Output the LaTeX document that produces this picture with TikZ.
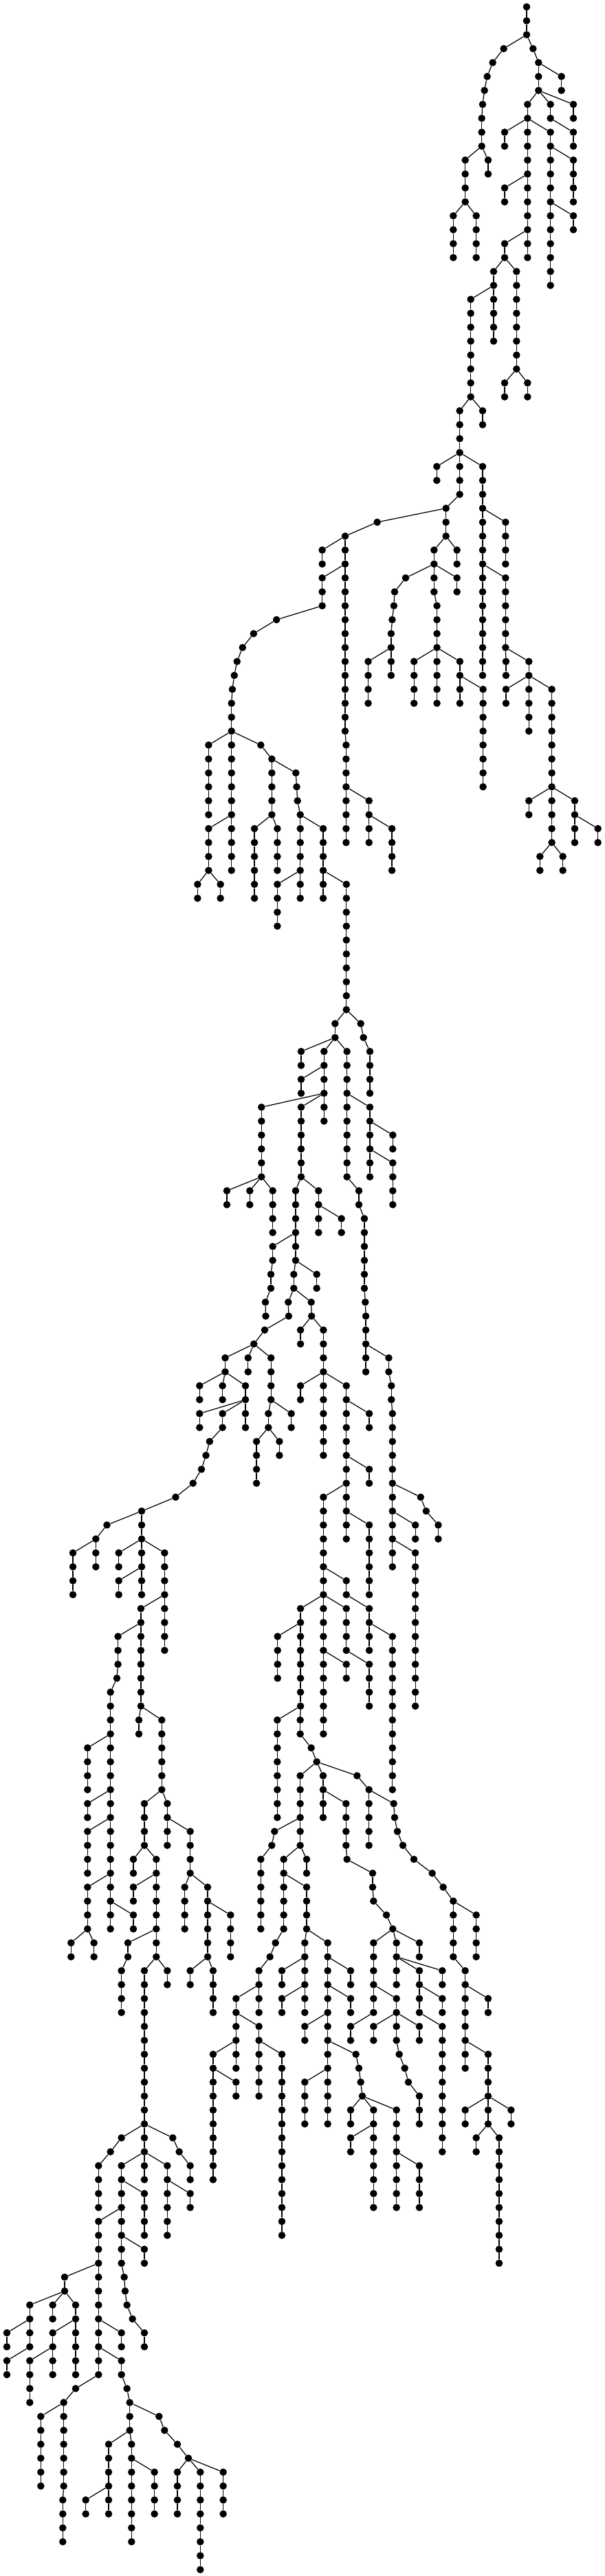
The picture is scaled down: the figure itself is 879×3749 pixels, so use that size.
\documentclass[tikz,border=0pt]{standalone}
\tikzset{
  treedot/.style={circle,fill=black,draw=none,inner sep=0pt,minimum size=10.6pt},
  treeedge/.style={draw=black,line width=1.25pt}
}
% region: name prefix, x origin, x scale
\newcommand\Rg[3]{\def\Rn{#1}\def\ox{#2}\def\sx{#3}}
% chain: parent node, column, first level, last level
\newcommand\Ch[4]{%
  \pgfmathsetmacro\cx{\ox+#2/\sx}%
  \foreach \lv [remember=\lv as \pv (initially -1)] in {#3,...,#4}{%
    \pgfmathsetmacro\cy{10+20.27*\lv}%
    \node[treedot] (\Rn#2-\lv) at (\cx pt,-\cy pt) {};%
    \ifnum\pv<0 \draw[treeedge] (#1) -- (\Rn#2-\lv);%
    \else \draw[treeedge] (\Rn#2-\pv) -- (\Rn#2-\lv);\fi
  }%
}
\begin{document}
\begin{tikzpicture}
\path[use as bounding box,fill=white] (0pt,0pt) rectangle (879pt,-3749pt);
\Rg{a}{440}{3}
\node[treedot] (a978-0) at (766pt,-10pt) {};
\Ch{a978-0}{978}{1}{2}
\Ch{a978-2}{878}{3}{3}\Ch{a878-3}{830}{4}{4}\Ch{a830-4}{806}{5}{5}\Ch{a806-5}{794}{6}{6}\Ch{a794-6}{786}{7}{7}\Ch{a786-7}{782}{8}{10}
\Ch{a782-10}{710}{11}{14}\Ch{a782-10}{810}{11}{12}
\Ch{a710-14}{658}{15}{18}\Ch{a710-14}{758}{15}{18}
\Ch{a978-2}{1006}{3}{3}\Ch{a1006-3}{1030}{4}{6}\Ch{a1030-4}{1130}{5}{6}
\Ch{a1030-6}{982}{7}{8}\Ch{a1030-6}{1082}{7}{8}\Ch{a1030-6}{1182}{7}{8}
\Ch{a1082-8}{1182}{9}{10}
\Ch{a982-8}{882}{9}{10}\Ch{a982-8}{982}{9}{18}\Ch{a982-8}{1082}{9}{10}
\Ch{a982-12}{882}{13}{14}\Ch{a982-16}{882}{17}{18}
\Ch{a882-18}{834}{19}{24}\Ch{a882-18}{934}{19}{26}
\Ch{a834-20}{734}{21}{28}
\Ch{a1082-10}{1082}{11}{20}\Ch{a1082-10}{1182}{11}{14}\Ch{a1082-14}{1182}{15}{16}
\Ch{a934-26}{882}{27}{28}\Ch{a934-26}{982}{27}{28}
\Ch{a734-28}{686}{29}{35}\Ch{a734-28}{786}{29}{30}
\Ch{a686-32}{586}{33}{34}\Ch{a686-32}{786}{33}{48}
\Ch{a686-35}{626}{36}{38}\Ch{a626-36}{326}{37}{37}\Ch{a326-37}{186}{38}{52}
\Ch{a186-38}{86}{39}{40}\Ch{a186-40}{86}{41}{43}
\Ch{a626-38}{574}{39}{42}\Ch{a626-38}{674}{39}{40}
\Ch{a574-40}{450}{41}{41}\Ch{a574-40}{674}{41}{42}\Ch{a450-41}{402}{42}{42}
\Ch{a786-36}{886}{37}{40}\Ch{a786-40}{886}{41}{46}

\Rg{c}{250}{2.49}
\Ch{a186-52}{631}{53}{60}\Ch{c631-56}{714}{57}{60}\Ch{c714-58}{797}{59}{62}
\Ch{a86-43}{379}{44}{44}\Ch{c379-44}{296}{45}{45}\Ch{c296-45}{256}{46}{46}\Ch{c256-46}{236}{47}{47}\Ch{c236-47}{226}{48}{48}\Ch{c226-48}{219}{49}{49}\Ch{c219-49}{216}{50}{62}
\Ch{c216-52}{133}{53}{58}\Ch{c216-52}{322}{53}{53}\Ch{c216-58}{133}{59}{62}
\Ch{c133-62}{93}{63}{64}\Ch{c133-62}{176}{63}{64}
\Ch{c322-53}{362}{54}{58}\Ch{c362-54}{449}{55}{55}\Ch{c362-58}{299}{59}{64}\Ch{c362-58}{382}{59}{62}
\Ch{c449-55}{452}{56}{56}\Ch{c452-56}{455}{57}{57}\Ch{c455-57}{465}{58}{64}\Ch{c465-58}{548}{59}{64}
\Ch{c465-62}{382}{63}{66}\Ch{c548-62}{632}{63}{72}
\Ch{a402-42}{804}{43}{43}\Ch{c804-43}{798}{44}{44}\Ch{c798-44}{794}{45}{48}\Ch{c794-46}{711}{47}{50}
\Ch{a574-42}{960}{43}{50}\Ch{c960-46}{877}{47}{50}\Ch{c960-46}{1043}{47}{50}\Ch{c1043-48}{1127}{49}{56}
\Ch{a886-46}{1210}{47}{48}\Ch{a886-46}{1293}{47}{52}
\Ch{c1293-48}{1210}{49}{50}\Ch{c1293-48}{1376}{49}{60}
\Ch{c1376-56}{1293}{57}{58}\Ch{c1376-56}{1459}{57}{60}\Ch{c1459-58}{1543}{59}{60}
\Ch{c1376-60}{1333}{61}{62}\Ch{c1376-60}{1416}{61}{62}

\Rg{d}{270}{3}
\Ch{c632-72}{652}{73}{74}\Ch{c632-72}{764}{73}{73}\Ch{d764-73}{776}{74}{74}\Ch{d776-74}{804}{75}{78}
\Ch{d652-74}{504}{75}{76}\Ch{d652-74}{604}{75}{80}\Ch{d652-74}{704}{75}{84}
\Ch{d604-76}{504}{77}{78}\Ch{d604-78}{331}{79}{84}\Ch{d604-78}{504}{79}{84}
\Ch{d331-84}{180}{85}{86}\Ch{d331-84}{280}{85}{86}\Ch{d331-84}{380}{85}{88}
\Ch{d504-84}{480}{85}{90}\Ch{d504-84}{580}{85}{88}\Ch{d580-86}{680}{87}{88}
\Ch{d480-88}{380}{89}{90}\Ch{d380-90}{372}{91}{92}\Ch{d372-92}{348}{93}{93}
\Ch{d480-90}{472}{91}{92}\Ch{d480-90}{572}{91}{92}
\Ch{d472-92}{448}{93}{93}\Ch{d472-92}{548}{93}{93}
\Ch{d704-78}{804}{79}{84}\Ch{d804-80}{904}{81}{82}\Ch{d804-82}{904}{83}{86}
\Ch{d704-84}{756}{85}{86}\Ch{d756-86}{780}{87}{92}\Ch{d780-92}{784}{93}{93}

\Rg{e}{80}{2.61}
\Ch{d348-93}{800}{94}{94}
\Ch{d448-93}{887}{94}{94}\Ch{e887-94}{796}{95}{95}\Ch{e796-95}{755}{96}{96}
\Ch{e755-96}{646}{97}{98}\Ch{e755-96}{733}{97}{98}\Ch{e755-96}{820}{97}{100}
\Ch{e646-98}{549}{99}{100}\Ch{e646-98}{636}{99}{100}\Ch{e646-98}{723}{99}{102}
\Ch{e723-100}{549}{101}{102}\Ch{e723-100}{636}{101}{102}
\Ch{e636-102}{587}{103}{103}\Ch{e587-103}{573}{104}{104}\Ch{e573-104}{556}{105}{105}\Ch{e556-105}{524}{106}{106}\Ch{e524-106}{458}{107}{107}\Ch{e458-107}{329}{108}{114}
\Ch{e820-100}{810}{101}{102}\Ch{e820-100}{897}{101}{102}
\Ch{e810-102}{765}{103}{106}\Ch{e810-102}{852}{103}{104}
\Ch{d548-93}{974}{94}{94}\Ch{e974-94}{932}{95}{96}\Ch{e974-94}{1019}{95}{104}
\Ch{e1019-98}{932}{99}{100}\Ch{e1019-98}{1106}{99}{110}
\Ch{e1106-100}{1193}{101}{102}\Ch{e1106-104}{1193}{105}{106}
\Ch{e1106-106}{1019}{107}{124}\Ch{e1106-108}{1193}{109}{114}
\Ch{e1019-112}{1106}{113}{114}\Ch{e1106-114}{1193}{115}{118}\Ch{e1193-116}{1281}{117}{128}
\Ch{e1019-114}{932}{115}{116}\Ch{e1019-114}{1106}{115}{118}
\Ch{e932-116}{845}{117}{120}\Ch{e932-116}{932}{117}{122}
\Ch{e1019-118}{1106}{119}{120}\Ch{e1106-118}{1193}{119}{122}
\Ch{d784-93}{1180}{94}{98}\Ch{e1180-96}{1267}{97}{98}\Ch{e1267-98}{1277}{99}{100}\Ch{e1277-100}{1281}{101}{112}
\Ch{e1281-106}{1388}{107}{107}\Ch{e1388-107}{1409}{108}{108}\Ch{e1409-108}{1455}{109}{110}
\Ch{e1281-108}{1368}{109}{110}\Ch{e1281-110}{1368}{111}{122}
\Ch{e329-108}{197}{109}{109}\Ch{e197-109}{155}{110}{112}\Ch{e155-110}{68}{111}{114}
\Ch{e329-110}{242}{111}{112}\Ch{e329-110}{416}{111}{118}\Ch{e329-112}{242}{113}{114}
\Ch{e416-114}{326}{115}{122}\Ch{e326-116}{239}{117}{119}

\Rg{f}{80}{3}
\Ch{e239-119}{270}{120}{120}\Ch{f270-120}{242}{121}{138}
\Ch{f242-124}{142}{125}{128}\Ch{f242-128}{142}{129}{130}\Ch{f242-130}{142}{131}{134}\Ch{f242-134}{142}{135}{138}
\Ch{f142-138}{70}{139}{140}\Ch{f142-138}{170}{139}{140}\Ch{f242-136}{342}{137}{138}
\Ch{e326-122}{366}{123}{124}\Ch{e326-122}{466}{123}{128}
\Ch{f466-128}{390}{129}{132}\Ch{f466-128}{490}{129}{132}
\Ch{f390-132}{342}{133}{134}\Ch{f390-132}{442}{133}{140}\Ch{f442-134}{342}{135}{136}
\Ch{f442-138}{318}{139}{140}\Ch{f442-140}{390}{141}{152}\Ch{f442-140}{490}{141}{142}
\Ch{f318-140}{290}{141}{144}
\Ch{f490-130}{590}{131}{134}\Ch{f590-134}{566}{135}{138}\Ch{f590-134}{666}{135}{140}
\Ch{f666-136}{766}{137}{140}\Ch{f666-140}{590}{141}{142}\Ch{f666-140}{690}{141}{144}

\Rg{g}{300}{3}
\Ch{e932-122}{310}{123}{130}\Ch{e932-122}{410}{123}{124}\Ch{g410-124}{458}{125}{125}\Ch{g458-125}{482}{126}{126}
\Ch{g482-126}{410}{127}{132}\Ch{g482-126}{510}{127}{130}\Ch{g482-126}{658}{127}{127}
\Ch{g410-130}{298}{131}{131}\Ch{g298-131}{286}{132}{132}\Ch{g286-132}{238}{133}{138}
\Ch{g410-132}{338}{133}{138}\Ch{g410-132}{438}{133}{134}\Ch{g338-134}{438}{135}{138}
\Ch{g338-138}{302}{139}{139}\Ch{g302-139}{278}{140}{140}\Ch{g278-140}{230}{141}{144}
\Ch{g230-142}{130}{143}{148}\Ch{g130-144}{230}{145}{150}\Ch{g130-146}{30}{147}{156}
\Ch{g30-148}{130}{149}{150}\Ch{g230-146}{330}{147}{160}
\Ch{g438-138}{430}{139}{144}\Ch{g438-138}{530}{139}{152}
\Ch{g430-140}{330}{141}{142}\Ch{g430-142}{330}{143}{144}
\Ch{g530-140}{630}{141}{142}\Ch{g530-142}{630}{143}{144}\Ch{g530-144}{430}{145}{146}
\Ch{g530-146}{653}{147}{147}\Ch{g653-147}{666}{148}{148}\Ch{g666-148}{674}{149}{149}\Ch{g674-149}{681}{150}{150}
\Ch{g530-148}{430}{149}{152}
\Ch{g681-150}{630}{151}{152}\Ch{g681-150}{730}{151}{158}\Ch{g681-150}{830}{151}{158}
\Ch{g730-152}{630}{153}{154}\Ch{g830-154}{930}{155}{158}
\Ch{g510-128}{610}{129}{132}\Ch{g610-132}{614}{133}{133}\Ch{g614-133}{726}{134}{135}\Ch{g726-135}{730}{136}{136}\Ch{g730-136}{786}{137}{137}\Ch{g786-137}{814}{138}{138}
\Ch{g814-138}{730}{139}{144}\Ch{g814-138}{830}{139}{142}\Ch{g814-138}{930}{139}{140}
\Ch{g730-144}{630}{145}{146}
\Ch{g730-142}{830}{143}{146}\Ch{g830-144}{730}{145}{146}\Ch{g830-144}{930}{145}{146}
\Ch{g830-146}{842}{147}{147}\Ch{g842-147}{866}{148}{148}\Ch{g866-148}{882}{149}{149}\Ch{g882-149}{930}{150}{152}
\Ch{g830-140}{930}{141}{144}\Ch{g830-140}{1030}{141}{142}\Ch{g930-142}{1030}{143}{144}\Ch{g930-144}{1030}{145}{154}
\Ch{g658-127}{710}{128}{132}\Ch{g710-128}{818}{129}{129}\Ch{g818-129}{822}{130}{130}\Ch{g822-130}{834}{131}{131}\Ch{g834-131}{858}{132}{132}\Ch{g858-132}{906}{133}{133}\Ch{g906-133}{986}{134}{134}\Ch{g986-134}{1034}{135}{135}\Ch{g1034-135}{1078}{136}{140}
\Ch{g1078-136}{1178}{137}{140}
\Ch{g1078-140}{1130}{141}{148}\Ch{g1130-142}{1230}{143}{144}\Ch{g1130-146}{1230}{147}{152}
\Ch{g1230-150}{1130}{151}{152}\Ch{g1230-150}{1330}{151}{152}
\Ch{g1230-152}{1178}{153}{154}\Ch{g1230-152}{1278}{153}{162}

\Rg{h}{0}{3}
\Ch{f390-152}{530}{153}{153}\Ch{h530-153}{482}{154}{154}\Ch{h482-154}{430}{155}{158}
\Ch{f390-152}{630}{153}{156}\Ch{f390-152}{754}{153}{153}\Ch{h754-153}{782}{154}{154}\Ch{h782-154}{830}{155}{156}
\Ch{h630-154}{530}{155}{158}\Ch{h630-154}{730}{155}{160}\Ch{h730-156}{830}{157}{158}\Ch{h530-156}{630}{157}{160}
\Ch{h530-158}{430}{159}{170}\Ch{h530-158}{530}{159}{162}\Ch{h530-160}{630}{161}{162}
\Ch{h530-162}{542}{163}{163}\Ch{h542-163}{546}{164}{164}\Ch{h546-164}{554}{165}{165}\Ch{h554-165}{578}{166}{166}\Ch{h578-166}{630}{167}{168}
\Ch{h430-162}{282}{163}{164}
\Ch{h282-164}{130}{165}{168}\Ch{h282-164}{230}{165}{166}\Ch{h282-164}{330}{165}{170}
\Ch{h130-166}{30}{167}{168}\Ch{h130-168}{30}{169}{170}
\Ch{h330-166}{230}{167}{170}\Ch{h230-168}{130}{169}{172}
\Ch{h430-166}{530}{167}{168}\Ch{h430-168}{530}{169}{170}
\Ch{h530-170}{554}{171}{171}\Ch{h554-171}{566}{172}{174}
\Ch{h430-170}{330}{171}{171}\Ch{h330-171}{278}{172}{178}\Ch{h278-178}{274}{179}{182}\Ch{h278-172}{178}{173}{178}
\Ch{h566-172}{694}{173}{173}\Ch{h694-173}{718}{174}{174}\Ch{h718-174}{774}{175}{175}\Ch{h774-175}{822}{176}{176}
\Ch{h566-174}{474}{175}{178}\Ch{h566-174}{574}{175}{182}
\Ch{h474-178}{374}{179}{180}\Ch{h474-178}{474}{179}{180}\Ch{h574-176}{674}{177}{180}
\Ch{h822-176}{774}{177}{180}\Ch{h822-176}{874}{177}{184}\Ch{h822-176}{974}{177}{180}
\end{tikzpicture}
\end{document}
